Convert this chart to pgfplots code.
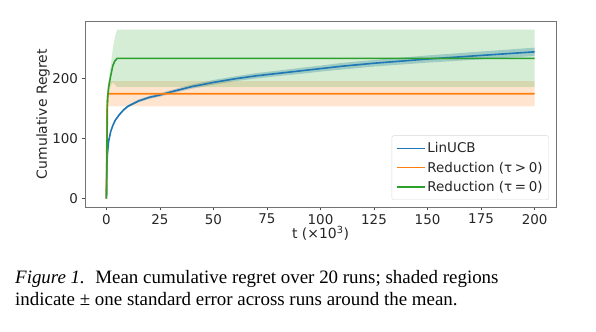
\documentclass[border=0pt]{standalone}
\usepackage{fontspec}
\setmainfont{DejaVu Sans}
\newfontfamily\capfont{Liberation Serif}
\usepackage{pgfplots}
\pgfplotsset{compat=1.18}
\usepgfplotslibrary{fillbetween}
\usepackage{pgfplotstable}

\definecolor{tabblue}{HTML}{1F77B4}
\definecolor{taborange}{HTML}{FF7F0E}
\definecolor{tabgreen}{HTML}{2CA02C}

\pgfplotstableread{
t m l h
0 0 0 0
0.25 60 59 61
0.5 75 74 76
1 95 93.5 96.5
2 112 110.5 113.5
3 122 120.5 123.5
4 130 128.5 131.5
6 140 138 142
8 148 146 150
10 154 152 156
15 163 160.5 165.5
20 169 166.5 171.5
25 173 170 176
30 178 175 181
40 187 183.5 190.5
50 194 190 198
60 200 196 204
70 205 200.5 209.5
80 209 204.5 213.5
90 213 208 218
100 217 212 222
110 221 215.5 226.5
125 226 220.5 231.5
150 233 227 239
175 239 232.5 245.5
200 245 238 252
}\tblblue

\pgfplotstableread{
t m l h
0 0 0 0
0.3 150 132 168
0.7 175 154 196
200 175 154 196
}\tblorange

\pgfplotstableread{
t m l h
0 0 0 0
0.5 165 158 172
1 185 175 195
2 205 188 222
3 222 194 250
4 230 190 270
5 234 186 282
200 234 186 282
}\tblgreen

\begin{document}
\begin{tikzpicture}
\begin{axis}[
  at={(85bp,125bp)}, anchor=south west,
  width=471bp, height=186bp, scale only axis,
  xmin=-10, xmax=210, ymin=-14, ymax=296.5,
  xtick={0,25,...,200}, ytick={0,100,200},
  tick align=outside, xtick pos=bottom, ytick pos=left,
  major tick length=3.5bp,
  axis line style={black!55, line width=0.8bp},
  tick style={black!70, line width=0.8bp},
  ticklabel style={font=\fontsize{13.5}{16}\selectfont, text=black!85},
  /pgf/number format/assume math mode=true,
  xlabel={t (×10\textsuperscript{3})},
  ylabel={Cumulative Regret},
  label style={font=\fontsize{14}{16}\selectfont, text=black!85},
  xlabel style={at={(axis description cs:0.5,-0.14)}, anchor=center},
  ylabel style={at={(axis description cs:-0.089,0.5)}, anchor=center},
  legend style={at={(axis description cs:0.985,0.038)}, anchor=south east,
    font=\fontsize{13.5}{16}\selectfont, text=black!85, draw=black!15, rounded corners=2bp,
    inner xsep=4bp, inner ysep=5bp, row sep=3.5bp},
  legend cell align=left,
  legend image code/.code={\draw[#1, line width=1.6bp] (0bp,0bp) -- (28bp,0bp);},
]
\addplot[tabblue, line width=1.6bp] table[x=t,y=m]{\tblblue};
\addlegendentry{LinUCB}
\addplot[draw=none, name path=bu, forget plot] table[x=t,y=h]{\tblblue};
\addplot[draw=none, name path=bl, forget plot] table[x=t,y=l]{\tblblue};
\addplot[fill=tabblue, fill opacity=0.3, draw=none, forget plot] fill between[of=bu and bl];

\addplot[taborange, line width=1.6bp] table[x=t,y=m]{\tblorange};
\addlegendentry{Reduction (τ\hspace{0.2em}>\hspace{0.2em}0)}
\addplot[draw=none, name path=ou, forget plot] table[x=t,y=h]{\tblorange};
\addplot[draw=none, name path=ol, forget plot] table[x=t,y=l]{\tblorange};
\addplot[fill=taborange, fill opacity=0.2, draw=none, forget plot] fill between[of=ou and ol];

\addplot[tabgreen, line width=1.6bp] table[x=t,y=m]{\tblgreen};
\addlegendentry{Reduction (τ\hspace{0.2em}=\hspace{0.2em}0)}
\addplot[draw=none, name path=gu, forget plot] table[x=t,y=h]{\tblgreen};
\addplot[draw=none, name path=gl, forget plot] table[x=t,y=l]{\tblgreen};
\addplot[fill=tabgreen, fill opacity=0.2, draw=none, forget plot] fill between[of=gu and gl];
\end{axis}
\node[anchor=base west, inner sep=0] at (15bp,48bp) {\capfont\fontsize{19}{22}\selectfont\textit{Figure 1.}\hspace{0.55em}Mean cumulative regret over 20 runs; shaded regions};
\node[anchor=base west, inner sep=0] at (15bp,27bp) {\capfont\fontsize{19}{22}\selectfont indicate ± one standard error across runs around the mean.};
\path (0,0) rectangle (596bp,332bp);
\end{tikzpicture}
\end{document}
